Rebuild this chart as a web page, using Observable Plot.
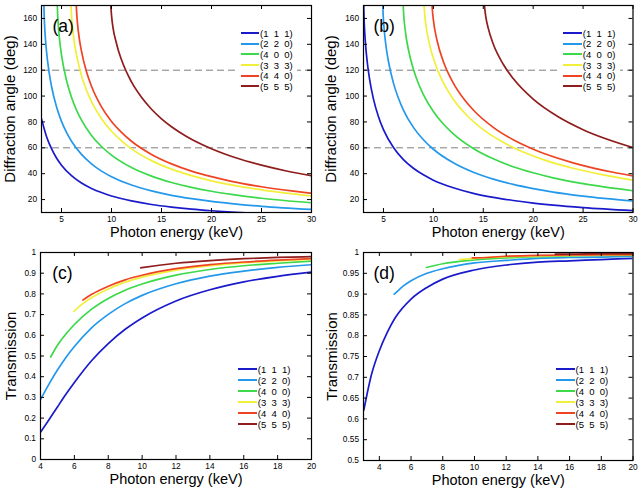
<!DOCTYPE html>
<html><head><meta charset="utf-8">
<script src="https://cdn.jsdelivr.net/npm/d3@7"></script>
<script src="https://cdn.jsdelivr.net/npm/@observablehq/plot@0.6"></script>
<style>
body{margin:0;background:#fff;}
#root{position:relative;width:640px;height:492px;overflow:hidden;font-family:"Liberation Sans",Arial,sans-serif;}
.panel{position:absolute;}
.legend{position:absolute;background:#fff;font-size:9.5px;color:#000;}
.legend .row{display:flex;align-items:center;white-space:pre;}
.legend .swatch{display:inline-block;width:18.5px;height:0;border-top:2px solid;margin-right:1px;}
</style></head>
<body><div id="root"></div>
<script>
// ---- labels, ticks ----
const reflections = ["(1  1  1)", "(2  2  0)", "(4  0  0)", "(3  3  3)", "(4  4  0)", "(5  5  5)"];
const palette = ["#1a1acb", "#2499ec", "#3cd94a", "#f2ef3a", "#ef4423", "#8f1d1d"];
const angleTicksX = [5, 10, 15, 20, 25, 30];
const angleTicksY = [20, 40, 60, 80, 100, 120, 140, 160];
const transTicksX = [4, 6, 8, 10, 12, 14, 16, 18, 20];
const transTicksYc = [0, 0.1, 0.2, 0.3, 0.4, 0.5, 0.6, 0.7, 0.8, 0.9, 1];
const transTicksYd = [0.5, 0.55, 0.6, 0.65, 0.7, 0.75, 0.8, 0.85, 0.9, 0.95, 1];
const guideAngles = [60, 120];

// ---- (a) diffraction angle, [keV, deg] ----
const a111 = [[3,82.4],[3.5,68.8],[4,59.3],[4.5,52.1],[5,46.6],[6,38.5],[7,32.8],[8,28.6],[9,25.4],[10,22.8],[12,19.0],[14,16.2],[16,14.2],[18,12.6],[20,11.35],[22,10.3],[25,9.07],[30,7.55]];
const a220 = [[3.24,170.3],[3.25,166.8],[3.3,156.1],[3.4,143.4],[3.5,134.6],[3.75,118.8],[4,107.6],[4.5,91.7],[5,80.4],[5.5,71.9],[6,65.1],[7,54.9],[8,47.6],[9,42.0],[10,37.7],[12,31.2],[14,26.7],[16,23.3],[18,20.7],[20,18.6],[22,16.9],[25,14.8],[30,12.35]];
const a400 = [[4.58,170.9],[4.6,166.0],[4.7,152.5],[4.8,144.1],[5,131.9],[5.5,112.2],[6,99.1],[6.5,89.2],[7,81.4],[8,69.6],[9,61.0],[10,54.3],[12,44.7],[14,38.1],[16,33.2],[18,29.4],[20,26.4],[22,24.0],[25,21.0],[30,17.5]];
const a333 = [[5.95,170.8],[6,162.6],[6.2,146.2],[6.5,131.8],[7,115.8],[7.5,104.5],[8,95.7],[9,82.4],[10,72.8],[11,65.3],[12,59.2],[14,50.1],[16,43.5],[18,38.5],[20,34.5],[22,31.3],[25,27.5],[30,22.8]];
const a440 = [[6.48,170.3],[6.5,166.8],[6.6,156.1],[6.8,143.4],[7,134.6],[7.5,118.8],[8,107.6],[9,91.7],[10,80.4],[11,71.9],[12,65.1],[14,54.9],[16,47.6],[18,42.0],[20,37.7],[22,34.1],[25,29.9],[28,26.7],[30,24.9]];
const a555 = [[9.92,170.4],[10,162.6],[10.5,140.6],[11,128.0],[12,110.9],[13,99.0],[14,89.8],[15,82.4],[16,76.3],[17.5,68.8],[20,59.3],[22.5,52.1],[25,46.6],[27.5,42.1],[30,38.5]];

// ---- (b) diffraction angle, [keV, deg] ----
const b111 = [[3.02,170.7],[3.05,161.4],[3.1,152.3],[3.2,140.3],[3.4,124.6],[3.6,113.5],[4,97.6],[4.5,84.0],[5,74.0],[6,60.2],[7,50.9],[8,44.2],[9,39.1],[10,35.0],[12,29.1],[14,24.8],[16,21.7],[18,19.3],[20,17.3],[22,15.7],[25,13.8],[30,11.5]];
const b220 = [[4.93,171.2],[4.95,166.5],[5,158.9],[5.2,142.0],[5.5,126.7],[6,110.0],[6.5,98.3],[7,89.2],[8,75.8],[9,66.2],[10,58.9],[12,48.4],[14,41.1],[16,35.8],[18,31.7],[20,28.5],[22,25.8],[25,22.7],[30,18.9]];
const b400 = [[6.97,171.7],[7,166.5],[7.2,149.8],[7.5,136.0],[8,120.7],[8.5,109.7],[9,101.2],[10,88.1],[11,78.4],[12,70.8],[14,59.5],[16,51.5],[18,45.4],[20,40.7],[22,36.8],[25,32.3],[30,26.8]];
const b333 = [[9.06,170.7],[9.15,161.4],[9.3,152.3],[9.6,140.3],[10.2,124.6],[10.8,113.5],[12,97.6],[13.5,84.0],[15,74.0],[18,60.2],[21,50.9],[24,44.2],[27,39.1],[30,35.0]];
const b440 = [[9.86,171.2],[9.9,166.5],[10,158.9],[10.4,142.0],[11,126.7],[12,110.0],[13,98.3],[14,89.2],[16,75.8],[18,66.2],[20,58.9],[24,48.4],[28,41.1],[30,38.3]];
const b555 = [[15.1,170.7],[15.25,161.4],[15.5,152.3],[16,140.3],[17,124.6],[18,113.5],[20,97.6],[22.5,84.0],[25,74.0],[30,60.2]];

// ---- (c) transmission, [keV, T] ----
const c111 = [[4,0.131],[4.5,0.192],[5,0.254],[5.5,0.315],[6,0.372],[7,0.476],[8,0.560],[9,0.629],[10,0.684],[12,0.766],[14,0.820],[16,0.858],[18,0.885],[20,0.905]];
const c220 = [[4,0.289],[4.5,0.364],[5,0.432],[5.5,0.493],[6,0.546],[7,0.635],[8,0.701],[9,0.753],[10,0.793],[12,0.849],[14,0.886],[16,0.910],[18,0.928],[20,0.941]];
const c400 = [[4.6,0.495],[5,0.552],[5.5,0.606],[6,0.652],[7,0.725],[8,0.778],[9,0.818],[10,0.848],[12,0.891],[14,0.918],[16,0.936],[18,0.948],[20,0.958]];
const c333 = [[5.97,0.716],[6.5,0.753],[7,0.781],[8,0.824],[9,0.857],[10,0.881],[12,0.915],[14,0.936],[16,0.950],[18,0.960],[20,0.967]];
const c440 = [[6.5,0.770],[7,0.797],[8,0.837],[9,0.868],[10,0.890],[12,0.922],[14,0.941],[16,0.954],[18,0.963],[20,0.970]];
const c555 = [[9.92,0.926],[10,0.927],[12,0.948],[14,0.961],[16,0.970],[18,0.976],[20,0.980]];

// ---- (d) transmission, [keV, T] ----
const d111 = [[3.02,0.621],[3.5,0.706],[4,0.764],[4.5,0.808],[5,0.843],[6,0.888],[7,0.916],[8,0.936],[10,0.958],[12,0.970],[14,0.977],[16,0.980],[18,0.983],[20,0.986]];
const d220 = [[4.94,0.900],[5,0.902],[5.5,0.919],[6,0.932],[7,0.950],[8,0.961],[10,0.975],[12,0.981],[14,0.986],[16,0.988],[18,0.989],[20,0.991]];
const d400 = [[6.97,0.964],[8,0.973],[10,0.982],[12,0.987],[14,0.990],[16,0.992],[18,0.993],[20,0.993]];
const d333 = [[9.06,0.983],[10,0.986],[12,0.990],[14,0.992],[16,0.993],[18,0.994],[20,0.995]];
const d440 = [[9.86,0.987],[10,0.987],[12,0.991],[14,0.993],[16,0.994],[18,0.995],[20,0.995]];
const d555 = [[15.1,0.996],[16,0.996],[18,0.997],[20,0.997]];

const xLabel = "Photon energy (keV)";
const root = document.getElementById("root");
const W = 320, H = 246;
const fmt = d => String(+d.toFixed(2));

function makePanel(cfg) {
  const fh = H - cfg.mt - cfg.mb, fw = W - cfg.ml - cfg.mr;
  const marks = [];
  if (cfg.guides) marks.push(Plot.ruleY(cfg.guides, {y: d => d, stroke: "#7f7f7f", strokeWidth: 1, strokeDasharray: "7,4"}));
  cfg.series.forEach((s, i) => marks.push(Plot.line(s, {x: d => d[0], y: d => d[1], stroke: palette[i], strokeWidth: 1.7, curve: "monotone-x", clip: true})));
  marks.push(
    Plot.tickX(cfg.xt, {x: d => d, insetTop: fh - 4, stroke: "#000", strokeWidth: 1}),
    Plot.tickX(cfg.xt, {x: d => d, insetBottom: fh - 4, stroke: "#000", strokeWidth: 1}),
    Plot.tickY(cfg.yt, {y: d => d, insetRight: fw - 4, stroke: "#000", strokeWidth: 1}),
    Plot.tickY(cfg.yt, {y: d => d, insetLeft: fw - 4, stroke: "#000", strokeWidth: 1}),
    Plot.axisX({ticks: cfg.xt, tickSize: 0, tickPadding: 4, fontSize: 8.3, label: null, tickFormat: fmt}),
    Plot.axisY({ticks: cfg.yt, tickSize: 0, tickPadding: 4.5, fontSize: 8.3, label: null, tickFormat: fmt}),
    Plot.frame({stroke: "#000", strokeWidth: 1.2}),
    Plot.text([cfg.tag], {text: d => d, frameAnchor: "top-left", dx: cfg.tagDx, dy: cfg.tagDy, fontSize: 17.5, textAnchor: "start", lineAnchor: "middle"}),
    Plot.text([cfg.yLabel], {text: d => d, frameAnchor: "left", dx: cfg.ylDx, rotate: -90, fontSize: 15, textAnchor: "middle", lineAnchor: "middle"}),
    Plot.text([xLabel], {text: d => d, frameAnchor: "bottom", dy: cfg.xlDy, fontSize: 14.5, textAnchor: "middle", lineAnchor: "middle"})
  );
  const svg = Plot.plot({
    width: W, height: H,
    marginLeft: cfg.ml, marginRight: cfg.mr, marginTop: cfg.mt, marginBottom: cfg.mb,
    x: {domain: cfg.xd}, y: {domain: cfg.yd},
    style: {fontFamily: "'Liberation Sans', Arial, sans-serif", background: "transparent", overflow: "visible", color: "#000"},
    marks
  });
  svg.classList.add("panel");
  svg.style.left = cfg.left + "px";
  svg.style.top = cfg.top + "px";
  root.appendChild(svg);

  const lg = document.createElement("div");
  lg.className = "legend";
  lg.style.left = cfg.lgLeft + "px";
  lg.style.top = cfg.lgTop + "px";
  lg.style.padding = "0 4px 0 2.5px";
  reflections.forEach((r, i) => {
    const row = document.createElement("div");
    row.className = "row";
    row.style.height = cfg.lgRow + "px";
    const sw = document.createElement("span");
    sw.className = "swatch";
    sw.style.borderTopColor = palette[i];
    const tx = document.createElement("span");
    tx.textContent = r;
    row.appendChild(sw); row.appendChild(tx);
    lg.appendChild(row);
  });
  root.appendChild(lg);
}

makePanel({left: 0, top: 0, ml: 41, mr: 9, mt: 5, mb: 34, xd: [3, 30], yd: [10, 170],
  xt: angleTicksX, yt: angleTicksY, guides: guideAngles,
  series: [a111, a220, a400, a333, a440, a555], tag: "(a)", tagDx: 11, tagDy: 20.5,
  yLabel: "Diffraction angle (deg)", ylDx: -31, xlDy: 20,
  lgLeft: 238, lgTop: 28, lgRow: 10.6});
makePanel({left: 320, top: 0, ml: 43, mr: 7.5, mt: 5, mb: 34, xd: [3, 30], yd: [10, 170],
  xt: angleTicksX, yt: angleTicksY, guides: guideAngles,
  series: [b111, b220, b400, b333, b440, b555], tag: "(b)", tagDx: 10, tagDy: 20.5,
  yLabel: "Diffraction angle (deg)", ylDx: -32, xlDy: 20,
  lgLeft: 560.8, lgTop: 28, lgRow: 10.6});
makePanel({left: 0, top: 246, ml: 40, mr: 9, mt: 6, mb: 33, xd: [4, 20], yd: [0, 1],
  xt: transTicksX, yt: transTicksYc,
  series: [c111, c220, c400, c333, c440, c555], tag: "(c)", tagDx: 11.7, tagDy: 21,
  yLabel: "Transmission", ylDx: -29, xlDy: 20,
  lgLeft: 235.8, lgTop: 363.5, lgRow: 11});
makePanel({left: 320, top: 246, ml: 43, mr: 7.5, mt: 6, mb: 32, xd: [3, 20], yd: [0.5, 1],
  xt: transTicksX, yt: transTicksYd,
  series: [d111, d220, d400, d333, d440, d555], tag: "(d)", tagDx: 10, tagDy: 20.5,
  yLabel: "Transmission", ylDx: -31, xlDy: 20,
  lgLeft: 553.5, lgTop: 363.5, lgRow: 11});
</script>
</body></html>
